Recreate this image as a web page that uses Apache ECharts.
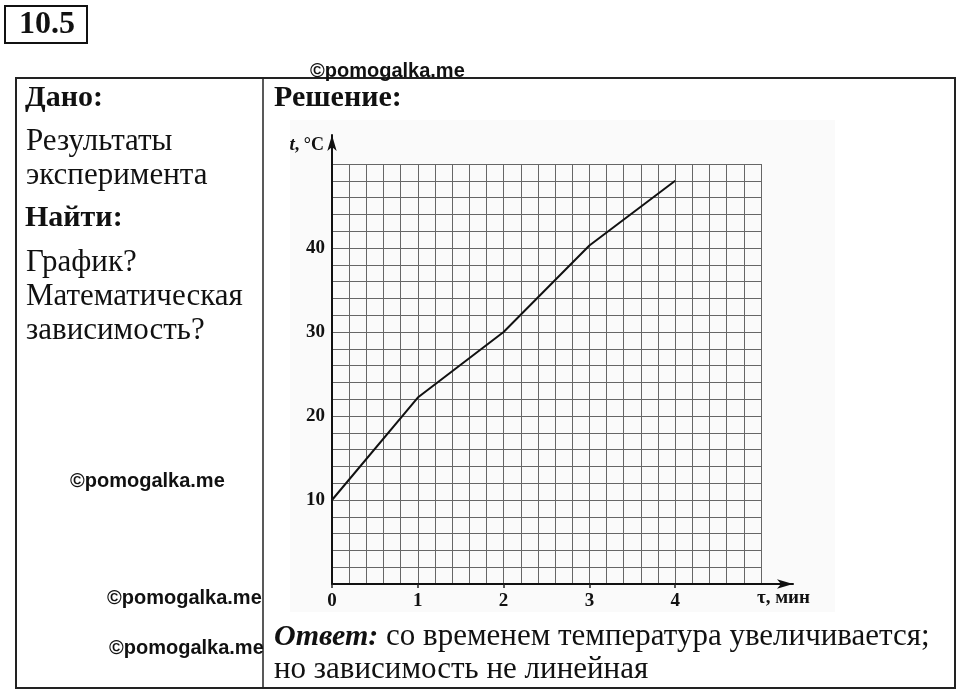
<!DOCTYPE html>
<html>
<head>
<meta charset="utf-8">
<script src="https://cdn.jsdelivr.net/npm/echarts@6/dist/echarts.min.js"></script>
<style>
  html, body { margin: 0; padding: 0; background: #fff; }
  #chart { width: 960px; height: 692px; }
</style>
</head>
<body>
<div id="chart"></div>
<script>
// время, мин и температура, °C
const timeMin = [0, 1, 2, 3, 4]
const tempC = [10, 22.2, 30, 40.3, 48]

// шкалы
const xMax = 5
const xStep = 1
const yMax = 50
const yStep = 10

const serif = '"Liberation Serif", "DejaVu Serif", serif'
const sans = '"Liberation Sans", Arial, sans-serif'

const chart = echarts.init(document.getElementById('chart'))

const txt = (x, y, text, font, extra) => ({
  type: 'text',
  z: 10,
  style: Object.assign({ x, y, text, font, fill: '#111', verticalAlign: 'middle' }, extra || {})
})

const line = (x1, y1, x2, y2, w) => ({
  type: 'line',
  z: 10,
  shape: { x1, y1, x2, y2 },
  style: { stroke: '#222', lineWidth: w || 2 }
})

const option = {
  animation: false,
  backgroundColor: '#fff',
  grid: [
    // клетки
    { left: 332, top: 164, width: 429, height: 420 },
    // оси со стрелками
    { left: 332, top: 135, width: 461, height: 449 }
  ],
  xAxis: [
    {
      gridIndex: 0,
      type: 'value',
      min: 0,
      max: xMax,
      interval: xStep,
      axisLine: { show: false },
      axisTick: { show: true, length: 4, lineStyle: { color: '#222', width: 1.5 } },
      axisLabel: {
        showMaxLabel: false,
        margin: 8,
        color: '#111',
        fontFamily: serif,
        fontWeight: 'bold',
        fontSize: 19
      },
      splitLine: { show: true, lineStyle: { color: '#666', width: 1 } },
      minorTick: { show: false, splitNumber: 5 },
      minorSplitLine: { show: true, lineStyle: { color: '#666', width: 1 } }
    },
    {
      gridIndex: 1,
      type: 'value',
      min: 0,
      max: 1,
      axisLine: {
        show: true,
        symbol: ['none', 'arrow'],
        symbolSize: [7, 16],
        lineStyle: { color: '#111', width: 2 }
      },
      axisTick: { show: false },
      axisLabel: { show: false },
      splitLine: { show: false },
      name: 'τ, мин',
      nameLocation: 'end',
      nameGap: 17,
      nameTextStyle: {
        align: 'right',
        verticalAlign: 'top',
        padding: [5, 0, 0, 0],
        color: '#111',
        fontFamily: serif,
        fontWeight: 'bold',
        fontSize: 19
      }
    }
  ],
  yAxis: [
    {
      gridIndex: 0,
      type: 'value',
      min: 0,
      max: yMax,
      interval: yStep,
      axisLine: { show: false },
      axisTick: { show: false },
      axisLabel: {
        showMinLabel: false,
        showMaxLabel: false,
        margin: 7,
        color: '#111',
        fontFamily: serif,
        fontWeight: 'bold',
        fontSize: 19
      },
      splitLine: { show: true, lineStyle: { color: '#666', width: 1 } },
      minorTick: { show: false, splitNumber: 5 },
      minorSplitLine: { show: true, lineStyle: { color: '#666', width: 1 } }
    },
    {
      gridIndex: 1,
      type: 'value',
      min: 0,
      max: 1,
      axisLine: {
        show: true,
        symbol: ['none', 'arrow'],
        symbolSize: [7, 16],
        lineStyle: { color: '#111', width: 2 }
      },
      axisTick: { show: false },
      axisLabel: { show: false },
      splitLine: { show: false },
      name: '{i|t}, °C',
      nameLocation: 'end',
      nameGap: -1,
      nameTextStyle: {
        align: 'right',
        verticalAlign: 'top',
        padding: [0, 8, 0, 0],
        color: '#111',
        fontFamily: serif,
        fontWeight: 'bold',
        fontSize: 18,
        rich: {
          i: { fontStyle: 'italic', fontWeight: 'bold', fontFamily: serif, fontSize: 19, color: '#111' }
        }
      }
    }
  ],
  series: [
    {
      type: 'line',
      xAxisIndex: 0,
      yAxisIndex: 0,
      data: timeMin.map((t, i) => [t, tempC[i]]),
      showSymbol: false,
      lineStyle: { color: '#111', width: 2 },
      z: 5
    }
  ],
  graphic: [
    // фон скана
    { type: 'rect', z: -10, silent: true, shape: { x: 290, y: 120, width: 545, height: 492 }, style: { fill: '#fafafa' } },
    // номер задачи
    { type: 'rect', z: 10, shape: { x: 5, y: 6, width: 82, height: 37 }, style: { fill: 'none', stroke: '#111', lineWidth: 2 } },
    txt(47, 25, '10.5', 'bold 32px ' + serif, { align: 'center' }),
    // таблица
    { type: 'rect', z: 10, shape: { x: 16, y: 78, width: 939, height: 610 }, style: { fill: 'none', stroke: '#222', lineWidth: 2 } },
    line(263, 78, 263, 688, 1.5),
    // левая колонка
    txt(25, 98, 'Дано:', 'bold 30px ' + serif),
    txt(26, 142, 'Результаты', '31px ' + serif),
    txt(26, 176, 'эксперимента', '31px ' + serif),
    txt(25, 218, 'Найти:', 'bold 30px ' + serif),
    txt(26, 263, 'График?', '31px ' + serif),
    txt(26, 297, 'Математическая', '31px ' + serif),
    txt(26, 331, 'зависимость?', '31px ' + serif),
    // правая колонка
    txt(274, 98, 'Решение:', 'bold 30px ' + serif),
    {
      type: 'text',
      z: 10,
      style: {
        x: 274, y: 637,
        text: '{b|Ответ:} со временем температура увеличивается;',
        font: '31px ' + serif,
        fill: '#111',
        verticalAlign: 'middle',
        rich: { b: { font: 'italic bold 30px ' + serif, fill: '#111' } }
      }
    },
    txt(274, 670, 'но зависимость не линейная', '31px ' + serif),
    // водяные знаки
    txt(310, 71, '©pomogalka.me', 'bold 20px ' + sans),
    txt(70, 481, '©pomogalka.me', 'bold 20px ' + sans),
    txt(107, 598, '©pomogalka.me', 'bold 20px ' + sans),
    txt(109, 648, '©pomogalka.me', 'bold 20px ' + sans)
  ]
}

chart.setOption(option)
</script>
</body>
</html>
